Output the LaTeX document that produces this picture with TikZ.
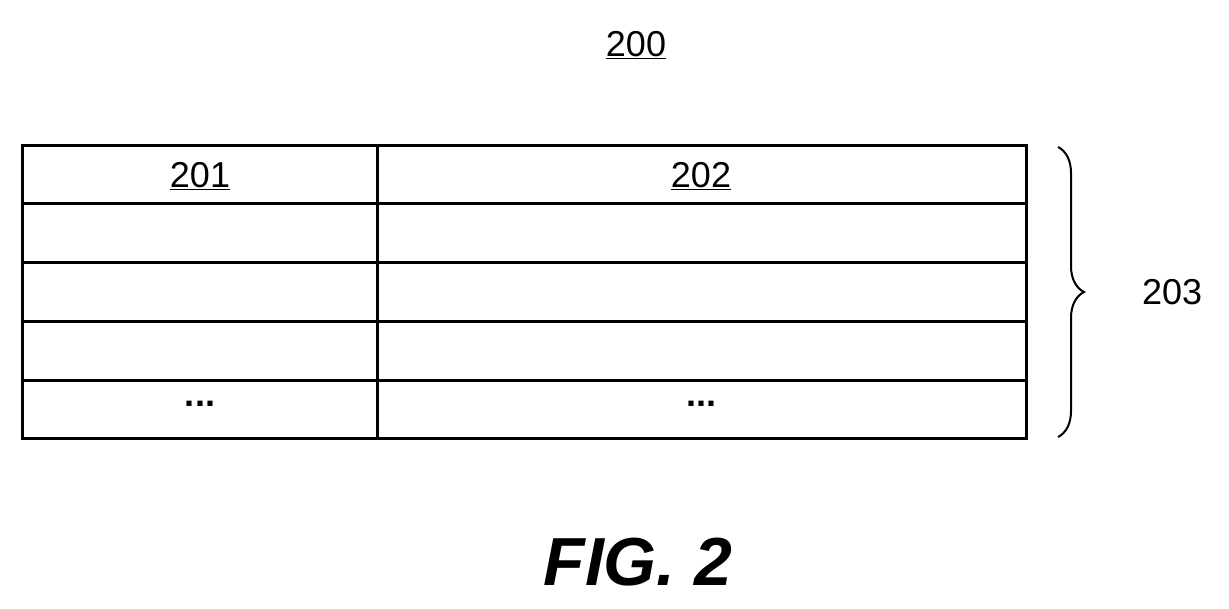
\documentclass[tikz,border=0pt]{standalone}
\usepackage{fontspec}
\setmainfont{Liberation Sans}
\usetikzlibrary{decorations.pathreplacing}
\begin{document}
\begin{tikzpicture}[x=1pt,y=-1pt,
  lbl/.style={font=\fontsize{36}{40}\selectfont, inner sep=0pt},
  grid/.style={line width=3pt}]
\useasboundingbox (0,0) rectangle (1229,608);
\node[lbl] (t200) at (636,45) {\underline{200}};
\draw[grid] (22,145) rectangle (1026,438);
\foreach \y in {203,262,321,380} \draw[grid] (22,\y) -- (1026,\y);
\draw[grid] (377,145) -- (377,438);
\node[lbl] (t201) at (200,176) {\underline{201}};
\node[lbl] (t202) at (701,176) {\underline{202}};
\node[lbl] (d1) at (200,404) {\textbf{...}};
\node[lbl] (d2) at (701,404) {\textbf{...}};
\draw[line width=2pt, decorate, decoration={brace, amplitude=26pt}] (1058,147) -- (1058,437);
\node[lbl, anchor=west] (t203) at (1142,292) {203};
\node[inner sep=0pt, font=\fontsize{68}{72}\selectfont\bfseries\itshape] (fig) at (638,562) {FIG. 2};
\end{tikzpicture}
\end{document}
